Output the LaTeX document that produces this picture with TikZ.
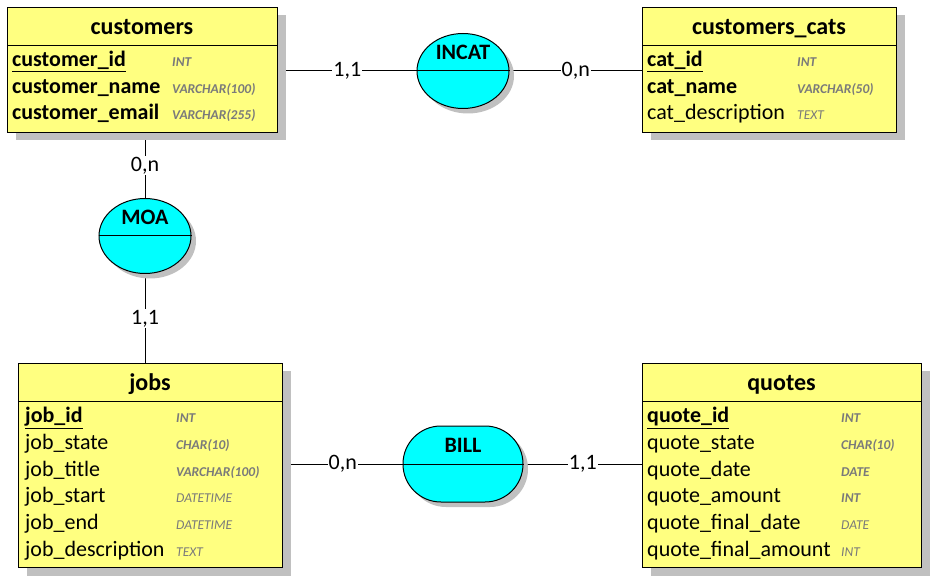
\documentclass[tikz,border=0pt]{standalone}
\usepackage{fontspec}
\setmainfont{Carlito}
\usetikzlibrary{shapes.geometric,shadows,backgrounds}
\definecolor{tblyellow}{HTML}{FFFF80}
\definecolor{relcyan}{HTML}{00FFFF}
\definecolor{shadowgrey}{HTML}{C0C0C0}
\definecolor{typegrey}{HTML}{7A7A7A}
\begin{document}
\begin{tikzpicture}[x=1pt,y=-1pt,line width=1pt,
  tbl/.style={draw=black,fill=tblyellow,anchor=north west,inner sep=0pt,
    general shadow={fill=shadowgrey,draw=none,shadow xshift=8pt,shadow yshift=-8pt}},
  rel/.style={draw=black,fill=relcyan,inner sep=0pt,
    general shadow={fill=shadowgrey,draw=none,shadow xshift=5pt,shadow yshift=-5pt}},
  tbltitle/.style={anchor=base,inner sep=0pt,font=\fontsize{24}{28}\selectfont\bfseries},
  fld/.style={anchor=base west,inner sep=0pt,font=\fontsize{22}{26}\selectfont},
  bfld/.style={fld,font=\fontsize{22}{26}\selectfont\bfseries},
  typ/.style={anchor=base west,inner sep=0pt,text=typegrey,font=\fontsize{13.5}{15}\selectfont\itshape},
  btyp/.style={typ,font=\fontsize{13.5}{15}\selectfont\bfseries\itshape},
  reltxt/.style={anchor=base,inner sep=0pt,font=\fontsize{22}{26}\selectfont\bfseries},
  card/.style={fill=white,inner sep=1pt,font=\fontsize{22}{26}\selectfont},
  conn/.style={draw=black,line width=1pt}]
\useasboundingbox (0,0) rectangle (935,585);

% ---------- tables ----------
\node[tbl,minimum width=270pt,minimum height=125pt] (customers) at (7,7) {};
\node[tbl,minimum width=254pt,minimum height=125pt] (cats) at (642,7) {};
\node[tbl,minimum width=264pt,minimum height=204pt] (jobs) at (18,363) {};
\node[tbl,minimum width=279pt,minimum height=204pt] (quotes) at (642,363) {};

\foreach \t in {customers,cats,jobs,quotes}{
  \draw ([yshift=-39pt]\t.north west) -- ([yshift=-39pt]\t.north east);
}

% ---------- relationships ----------
\node[rel,ellipse,minimum width=92pt,minimum height=75pt] (incat) at (463,71) {};
\node[rel,ellipse,minimum width=92pt,minimum height=75pt] (moa) at (145,236) {};
\node[rel,rectangle,rounded corners=37.9pt,minimum width=120pt,minimum height=76pt] (bill) at (463,464) {};
\foreach \r in {incat,moa,bill}{
  \draw (\r.west) -- (\r.east);
}
\node[reltxt] (incat-t) at ([yshift=11.5pt]incat.center) {INCAT};
\node[reltxt] (moa-t) at ([yshift=11.5pt]moa.center) {MOA};
\node[reltxt] (bill-t) at ([yshift=11.5pt]bill.center) {BILL};

% ---------- connectors ----------
\begin{pgfonlayer}{background}
\draw[conn] (customers.east |- incat.west) -- node[card] (l1) {1,1} (incat.west);
\draw[conn] (incat.east) -- node[card] (l2) {0,n} (cats.west |- incat.east);
\draw[conn] (moa.north |- customers.south) -- node[card] (l3) {0,n} (moa.north);
\draw[conn] (moa.south) -- node[card] (l4) {1,1} (moa.south |- jobs.north);
\draw[conn] (jobs.east |- bill.west) -- node[card] (l5) {0,n} (bill.west);
\draw[conn] (bill.east) -- node[card] (l6) {1,1} (quotes.west |- bill.east);
\end{pgfonlayer}

% ---------- customers ----------
\node[tbltitle] (customers-h) at (142,35) {customers};
\node[bfld] (c1) at (12,67) {\underline{customer\_id}};
\node[bfld] (c2) at (12,93.5) {customer\_name};
\node[bfld] (c3) at (12,120) {customer\_email};
\node[btyp] (c1t) at (172,67) {INT};
\node[btyp] (c2t) at (172,93.5) {VARCHAR(100)};
\node[btyp] (c3t) at (172,120) {VARCHAR(255)};

% ---------- customers_cats ----------
\node[tbltitle] (cats-h) at (769,35) {customers\_cats};
\node[bfld] (k1) at (647,67) {\underline{cat\_id}};
\node[bfld] (k2) at (647,93.5) {cat\_name};
\node[fld] (k3) at (647,120) {cat\_description};
\node[btyp] (k1t) at (797,67) {INT};
\node[btyp] (k2t) at (797,93.5) {VARCHAR(50)};
\node[typ] (k3t) at (797,120) {TEXT};

% ---------- jobs ----------
\node[tbltitle] (jobs-h) at (150,391) {jobs};
\node[bfld] (j1) at (25,423) {\underline{job\_id}};
\node[fld] (j2) at (25,449.6) {job\_state};
\node[fld] (j3) at (25,476.2) {job\_title};
\node[fld] (j4) at (25,502.8) {job\_start};
\node[fld] (j5) at (25,529.4) {job\_end};
\node[fld] (j6) at (25,556) {job\_description};
\node[btyp] (j1t) at (176,423) {INT};
\node[btyp] (j2t) at (176,449.6) {CHAR(10)};
\node[btyp] (j3t) at (176,476.2) {VARCHAR(100)};
\node[typ] (j4t) at (176,502.8) {DATETIME};
\node[typ] (j5t) at (176,529.4) {DATETIME};
\node[typ] (j6t) at (176,556) {TEXT};

% ---------- quotes ----------
\node[tbltitle] (quotes-h) at (781.5,391) {quotes};
\node[bfld] (q1) at (647,423) {\underline{quote\_id}};
\node[fld] (q2) at (647,449.6) {quote\_state};
\node[fld] (q3) at (647,476.2) {quote\_date};
\node[fld] (q4) at (647,502.8) {quote\_amount};
\node[fld] (q5) at (647,529.4) {quote\_final\_date};
\node[fld] (q6) at (647,556) {quote\_final\_amount};
\node[btyp] (q1t) at (841,423) {INT};
\node[btyp] (q2t) at (841,449.6) {CHAR(10)};
\node[btyp] (q3t) at (841,476.2) {DATE};
\node[btyp] (q4t) at (841,502.8) {INT};
\node[typ] (q5t) at (841,529.4) {DATE};
\node[typ] (q6t) at (841,556) {INT};
\end{tikzpicture}
\end{document}
